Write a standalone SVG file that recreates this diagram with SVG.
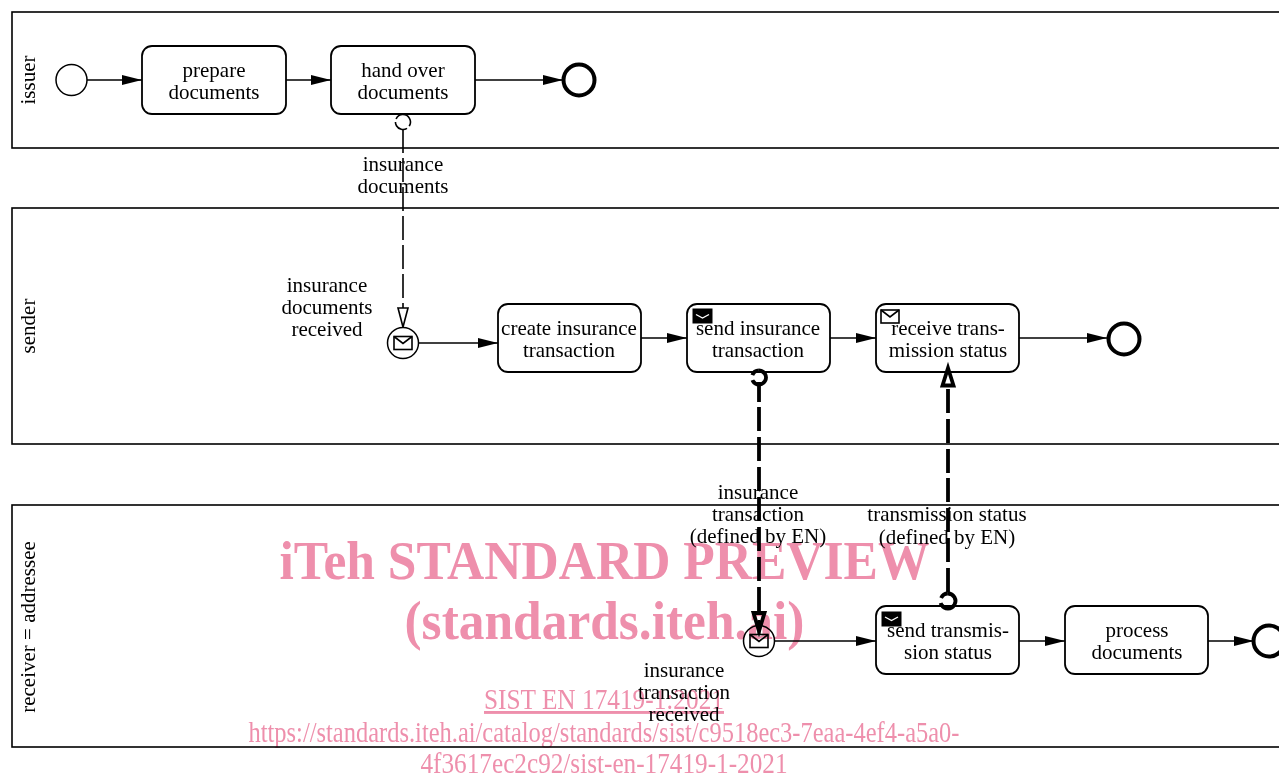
<svg xmlns="http://www.w3.org/2000/svg" width="1279" height="774" viewBox="0 0 1279 774">
<style>
.pool{fill:#fff;stroke:#000;stroke-width:1.6}
.task{fill:#fff;stroke:#000;stroke-width:1.8}
.ev{fill:#fff;stroke:#000;stroke-width:1.5}
.end{fill:#fff;stroke:#000;stroke-width:4}
.flow{fill:none;stroke:#000;stroke-width:1.6}
.t{font-family:"Liberation Serif",serif;font-size:21px;fill:#000;text-anchor:middle}
.env{fill:#fff;stroke:#000;stroke-width:1.6}
.envd{fill:#000;stroke:#000;stroke-width:1}
.thick{fill:none;stroke:#000;stroke-width:3.8}
.wm{font-family:"Liberation Serif",serif;fill:#ee8fac;text-anchor:middle;mix-blend-mode:multiply}
</style>
<defs>
<marker id="a" markerUnits="userSpaceOnUse" markerWidth="22" markerHeight="14" refX="20" refY="7" orient="auto"><path d="M0 2L20 7L0 12Z" fill="#000"/></marker>
</defs>
<g id="pools">
<rect class="pool" x="12" y="12" width="1280" height="136"/>
<rect class="pool" x="12" y="208" width="1280" height="236"/>
<rect class="pool" x="12" y="505" width="1280" height="242"/>
<text class="t" transform="translate(35 80) rotate(-90)">issuer</text>
<text class="t" transform="translate(35 326) rotate(-90)">sender</text>
<text class="t" transform="translate(35 627) rotate(-90)">receiver = addressee</text>
</g>
<g id="connectors">
<path class="flow" marker-end="url(#a)" d="M87 80H142"/>
<path class="flow" marker-end="url(#a)" d="M286 80H331"/>
<path class="flow" marker-end="url(#a)" d="M475 80H563"/>
<path class="flow" marker-end="url(#a)" d="M418 343H498"/>
<path class="flow" marker-end="url(#a)" d="M641 338H687"/>
<path class="flow" marker-end="url(#a)" d="M830 338H876"/>
<path class="flow" marker-end="url(#a)" d="M1019 338H1107"/>
<path class="flow" marker-end="url(#a)" d="M774 641H876"/>
<path class="flow" marker-end="url(#a)" d="M1019 641H1065"/>
<path class="flow" marker-end="url(#a)" d="M1208 641H1254"/>
<path fill="none" stroke="#000" stroke-width="1.6" stroke-dasharray="24 5" d="M403 129V308"/>
<path fill="#fff" stroke="#000" stroke-width="1.6" d="M398 308H408L403 327Z"/>
<path class="thick" stroke-dasharray="24 6" d="M759 382V402M759 407V612"/>
<path class="thick" stroke-dasharray="24 6" d="M948 592V478"/>
<path class="thick" stroke-dasharray="24 6" d="M948 473V418M948 413V385"/>
</g>
<g id="start1"><circle class="ev" cx="71.500" cy="80" r="15.500"/></g>
<g id="prepare"><rect class="task" x="142" y="46" width="144" height="68" rx="10"/><text class="t" x="214" y="77">prepare</text><text class="t" x="214" y="99">documents</text></g>
<g id="handover"><rect class="task" x="331" y="46" width="144" height="68" rx="10"/><text class="t" x="403" y="77">hand over</text><text class="t" x="403" y="99">documents</text></g>
<g id="end1"><circle class="end" cx="579" cy="80" r="15.500"/></g>
<g id="assoc1"><path fill="none" stroke="#000" stroke-width="1.6" stroke-dasharray="16 3" d="M403 114.500a7.500 7.500 0 1 1 -0.100 0"/></g>
<g id="label-docs"><text class="t" x="403" y="171">insurance</text><text class="t" x="403" y="193">documents</text></g>
<g id="docs-received"><circle class="ev" cx="403" cy="343" r="15.500"/><rect class="env" x="394" y="336.500" width="18" height="13"/><path class="flow" d="M394 336.500L403 343.500L412 336.500"/><text class="t" x="327" y="292">insurance</text><text class="t" x="327" y="314">documents</text><text class="t" x="327" y="336">received</text></g>
<g id="create"><rect class="task" x="498" y="304" width="143" height="68" rx="10"/><text class="t" x="569" y="335">create insurance</text><text class="t" x="569" y="357">transaction</text></g>
<g id="send"><rect class="task" x="687" y="304" width="143" height="68" rx="10"/><text class="t" x="758" y="335">send insurance</text><text class="t" x="758" y="357">transaction</text><rect class="envd" x="693" y="309" width="19" height="14"/><path fill="none" stroke="#fff" stroke-width="1.400" d="M696 314.500L702.500 318L709 314.500"/></g>
<g id="receive"><rect class="task" x="876" y="304" width="143" height="68" rx="10"/><text class="t" x="948" y="335">receive trans-</text><text class="t" x="948" y="357">mission status</text><rect class="env" x="881" y="310" width="18" height="13"/><path class="flow" d="M881 310L890 317L899 310"/></g>
<g id="assoc2"><path class="thick" stroke-dasharray="30 5" d="M759 370.500a7 7 0 1 1 -0.100 0"/></g>
<g id="arrow2"><path fill="#fff" stroke="#000" stroke-width="3.800" d="M942.500 385.500H953.500L948 368Z"/></g>
<g id="end2"><circle class="end" cx="1124" cy="339" r="15.500"/></g>
<g id="label-trans"><text class="t" x="758" y="499">insurance</text><text class="t" x="758" y="521">transaction</text><text class="t" x="758" y="543">(defined by EN)</text></g>
<g id="label-status"><text class="t" x="947" y="521">transmission status</text><text class="t" x="947" y="544">(defined by EN)</text></g>
<g id="trans-received"><circle class="ev" cx="759" cy="641" r="15.500"/><rect class="env" x="750" y="634.500" width="18" height="13"/><path class="flow" d="M750 634.500L759 641.500L768 634.500"/><text class="t" x="684" y="677">insurance</text><text class="t" x="684" y="699">transaction</text><text class="t" x="684" y="721">received</text></g>
<g id="arrow3"><path fill="#fff" stroke="#000" stroke-width="3.800" d="M753.500 613H764.500L759 631Z"/><path d="M759 620V634" stroke="#000" stroke-width="3"/></g>
<g id="sendstatus"><rect class="task" x="876" y="606" width="143" height="68" rx="10"/><text class="t" x="948" y="637">send transmis-</text><text class="t" x="948" y="659">sion status</text><rect class="envd" x="882" y="612" width="19" height="14"/><path fill="none" stroke="#fff" stroke-width="1.400" d="M885 617L891.500 620.500L898 617"/></g>
<g id="assoc3"><path class="thick" stroke-dasharray="33 5" d="M948 593.500a7.500 7.500 0 1 1 -0.100 0"/></g>
<g id="process"><rect class="task" x="1065" y="606" width="143" height="68" rx="10"/><text class="t" x="1137" y="637">process</text><text class="t" x="1137" y="659">documents</text></g>
<g id="end3"><circle class="end" cx="1269" cy="641" r="15.500"/></g>
<g id="watermark">
<text class="wm" x="604.500" y="579" font-size="54" font-weight="bold" textLength="650" lengthAdjust="spacingAndGlyphs">iTeh STANDARD PREVIEW</text>
<text class="wm" x="604.500" y="639" font-size="54" font-weight="bold" textLength="400" lengthAdjust="spacingAndGlyphs">(standards.iteh.ai)</text>
<text class="wm" x="604" y="709" font-size="29" text-decoration="underline" textLength="240" lengthAdjust="spacingAndGlyphs">SIST EN 17419-1:2021</text>
<text class="wm" x="604" y="742" font-size="29" textLength="711" lengthAdjust="spacingAndGlyphs">https://standards.iteh.ai/catalog/standards/sist/c9518ec3-7eaa-4ef4-a5a0-</text>
<text class="wm" x="604" y="773" font-size="29" textLength="367" lengthAdjust="spacingAndGlyphs">4f3617ec2c92/sist-en-17419-1-2021</text>
</g>
</svg>
